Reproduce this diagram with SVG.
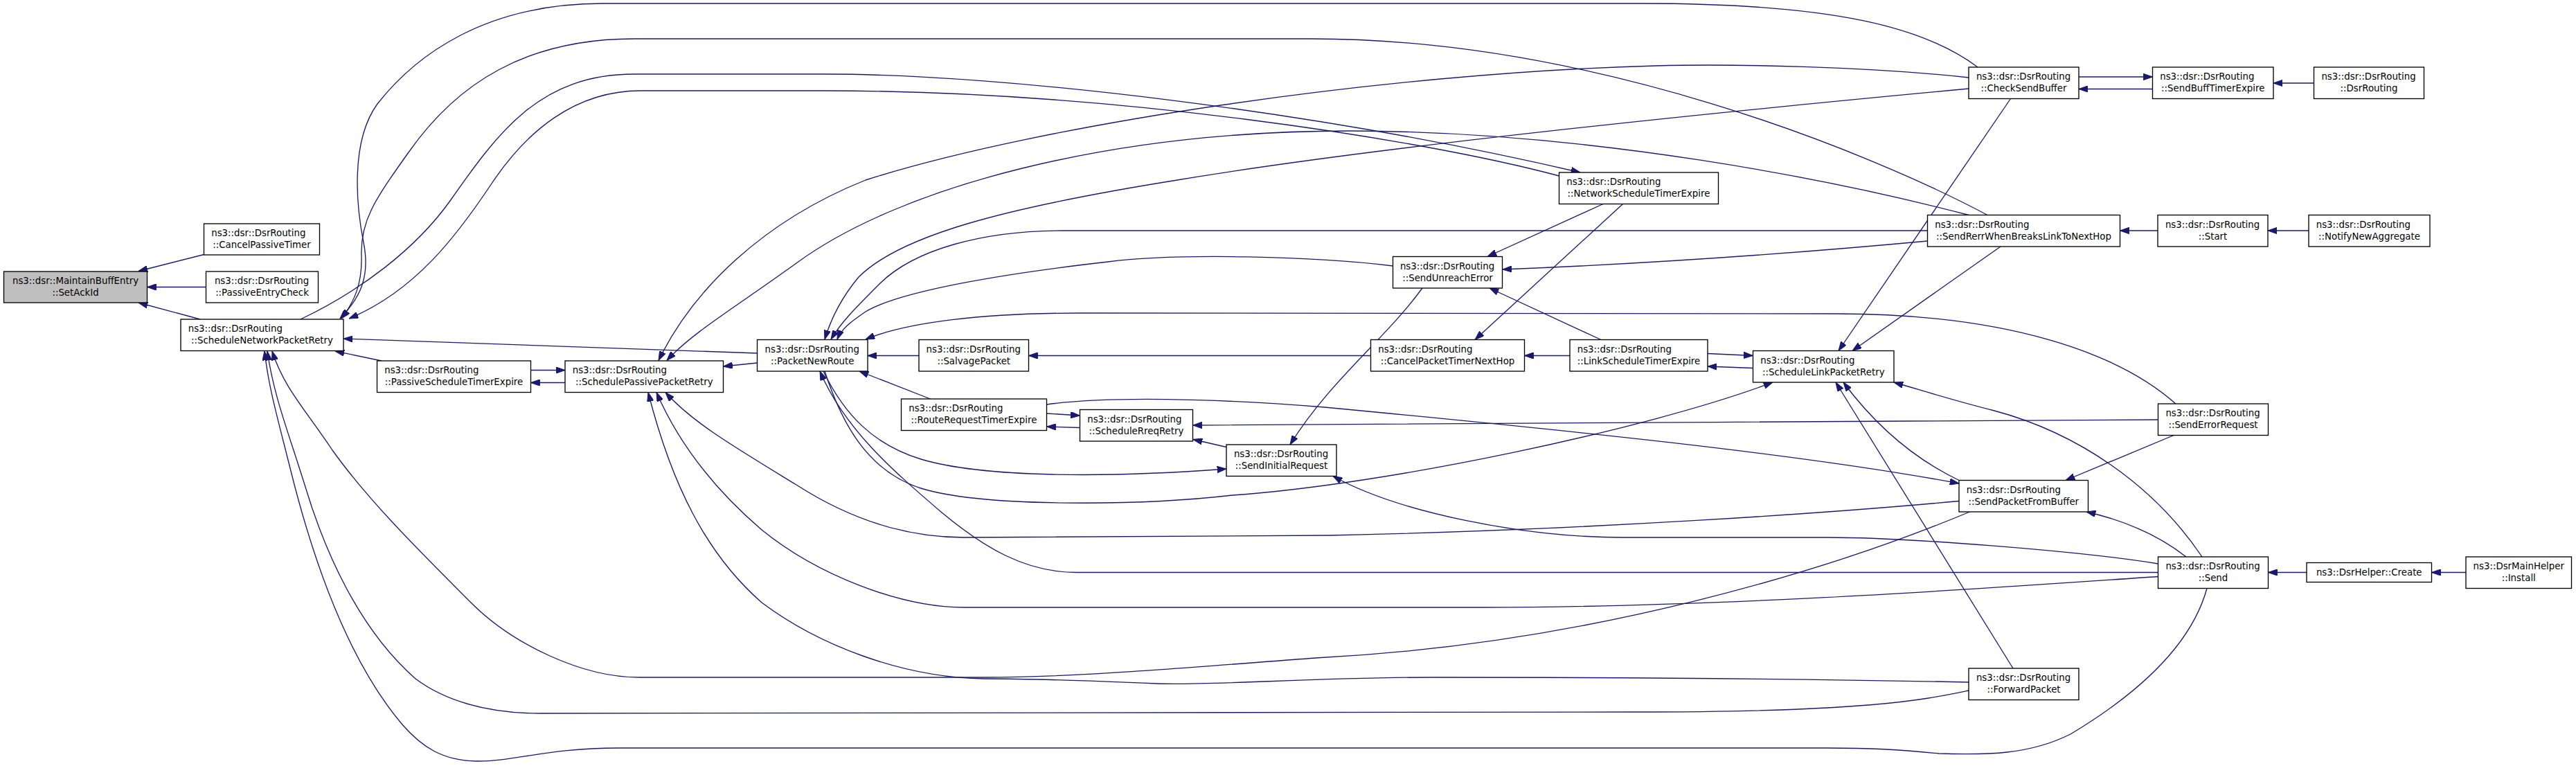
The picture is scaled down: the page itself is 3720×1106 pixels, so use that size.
<svg xmlns="http://www.w3.org/2000/svg" width="3720" height="1106" viewBox="0 0 3720 1106">
<style>
.n rect{fill:#ffffff;stroke:#000000;stroke-width:1.33}
text{font-family:"DejaVu Sans","Liberation Sans",sans-serif;font-size:13.33px;fill:#000000}
.m{text-anchor:middle}
.e path{fill:none;stroke:#191970;stroke-width:1.33;marker-end:url(#ah)}
</style>
<defs>
<marker id="ah" viewBox="0 0 13.3 9.4" refX="13.3" refY="4.7" markerWidth="13.3" markerHeight="9.4" markerUnits="userSpaceOnUse" orient="auto">
<path d="M0,0 L13.3,4.7 L0,9.4 z" fill="#191970" stroke="#191970" stroke-width="1"/>
</marker>
</defs>
<rect x="0" y="0" width="3720" height="1106" fill="#ffffff"/>
<g id="edges" class="e">
<path d="M294.5,367.5 L200,391.5"/>
<path d="M297.5,414.5 L212.5,414.5"/>
<path d="M289,461 L200,437"/>
<path d="M551,521 L484,507"/>
<path d="M766.5,534.5 L816,534.5"/>
<path d="M816,552.5 L766.5,552.5"/>
<path d="M1093.5,510 L496,489"/>
<path d="M1093.5,524 L1044.5,529"/>
<path d="M1327,513.5 L1253,513.5"/>
<path d="M1979.5,513.5 L1485.5,513.5"/>
<path d="M2267,513.5 L2201.5,513.5"/>
<path d="M2466,510.5 L2531.5,513.5"/>
<path d="M2531.5,531.5 L2466,529"/>
<path d="M1343.5,576 L1241,536"/>
<path d="M1511.5,597 L1559.5,600"/>
<path d="M1559.5,617.5 L1511.5,616"/>
<path d="M1771,645.5 L1723,634.5"/>
<path d="M1189,536 C1220,600 1262,642 1330,663 C1420,690 1600,690 1771,677"/>
<path d="M1191,536 C1215,610 1252,680 1330,705 C1420,733 1650,730 1780,715 C2000,700 2380,620 2560,552"/>
<path d="M2856,97 C2780,40 2650,5 2372,5 L871,5 C700,5 600,80 545,150 C505,205 515,300 525,350 C535,400 520,430 491,460"/>
<path d="M2870,310.5 C2700,220 2300,56 1894,56 L916,56 C760,56 660,120 590,220 C540,290 520,320 522,370 C523,410 512,435 493,460"/>
<path d="M434,461 C520,420 600,360 650,290 C720,190 780,107 916,107 L1191,107 C1450,107 1900,160 2282,249"/>
<path d="M2251.5,254 C2050,200 1600,131 1191,131 L925,131 C830,131 760,190 710,265 C660,340 600,420 504,460"/>
<path d="M2843,112 C2700,96 2500,92 2391,95 C2000,105 1500,180 1250,260 C1100,320 1000,420 951,520.5"/>
<path d="M2843,310.5 C2650,260 2300,190 1951,189 C1600,189 1300,270 1150,380 C1060,445 1000,480 963,520.5"/>
<path d="M2843,128 C2500,160 2000,210 1700,260 C1450,300 1300,340 1240,400 C1215,430 1200,460 1191,490"/>
<path d="M2783.5,333 L1534,333 C1420,333 1320,360 1270,410 C1235,445 1215,465 1200,490"/>
<path d="M2011.5,384 C1900,370 1700,365 1600,378 C1450,395 1300,420 1250,450 C1228,465 1215,475 1209,490"/>
<path d="M3142,583 C3060,510 2900,453 2650,453 L1560,452 C1420,452 1310,465 1250,490"/>
<path d="M2315,294.5 L2148,370.5"/>
<path d="M2343.5,294.5 L2130,490.5"/>
<path d="M2312,490.5 L2151,416"/>
<path d="M2783.5,348 C2600,365 2400,380 2170,389"/>
<path d="M2054,416 C2000,490 1920,550 1863,642"/>
<path d="M2903.5,142.5 L2655,506.5"/>
<path d="M2889,356 L2675,506.5"/>
<path d="M2907,965 L2651,552"/>
<path d="M2829,693.5 C2780,670 2720,630 2662,552"/>
<path d="M3180,804 C3110,700 3000,625 2880,593 C2820,578 2780,565 2735,552"/>
<path d="M3002,111 L3108.5,111"/>
<path d="M3108.5,128.5 L3002,128.5"/>
<path d="M3341.5,120 L3283,120"/>
<path d="M3116,333 L3061.5,333"/>
<path d="M3334,333 L3275,333"/>
<path d="M3116.5,606 C2700,608 2100,612 1722.5,614"/>
<path d="M3139,628.5 L2983,693.5"/>
<path d="M1511.5,584 C1600,572 1750,575 1913,588 C2250,620 2600,655 2829,698"/>
<path d="M3157,804 C3120,775 3070,752 3013,739"/>
<path d="M3331,826.5 L3275.5,826.5"/>
<path d="M3561,826.5 L3511.5,826.5"/>
<path d="M3116.5,814 C3000,795 2750,776 2640,776 L2345,776 C2200,776 2020,740 1925,687.5"/>
<path d="M3116.5,826.5 L1555,826.5 C1480,826.5 1420,790 1360,740 C1290,680 1220,620 1184,536"/>
<path d="M3116.5,832.5 C2900,847 2500,877 2140,877 L1392,877 C1300,877 1180,830 1100,765 C1030,705 980,640 948,566.5"/>
<path d="M3187,849.5 C3165,930 3090,1000 2990,1060 C2930,1090 2870,1090 2800,1088 C2740,1082 2700,1080 2639,1080 L893,1080 C790,1080 740,1100 688,1099 C640,1098 610,1080 580,1045 C500,950 450,800 420,680 C400,600 388,560 382,507"/>
<path d="M2829,723.5 C2650,740 2300,765 1920,773 L1392,776 C1300,776 1220,745 1150,700 C1060,645 1000,610 961,566.5"/>
<path d="M2844.5,739 C2650,820 2300,930 1900,950 C1700,965 1550,978 1421,978 L923,978 C840,978 740,930 680,870 C600,790 530,720 480,650 C440,590 410,560 393,507"/>
<path d="M2843,985 C2600,980 2300,978 2067,978 C1900,978 1750,990 1671,987 C1600,984 1500,980 1421,980 C1300,978 1180,930 1100,870 C1020,800 970,700 936,566.5"/>
<path d="M2843,997 C2780,1010 2700,1028 2360,1028 L780,1030 C700,1030 640,1010 600,980 C520,910 470,800 440,700 C415,620 395,570 386,507"/>
</g>
<g id="n_setackid" class="n"><rect x="5.5" y="392" width="207" height="45" style="fill:#bfbfbf"/><text class="m" x="109" y="410">ns3::dsr::MaintainBuffEntry</text><text class="m" x="109" y="427">::SetAckId</text></g>
<g id="n_cancelpassivetimer" class="n"><rect x="294.5" y="323" width="167" height="45"/><text x="305.2" y="341">ns3::dsr::DsrRouting</text><text class="m" x="378" y="358">::CancelPassiveTimer</text></g>
<g id="n_passiveentrycheck" class="n"><rect x="297.5" y="392" width="162" height="45"/><text x="309.9" y="410">ns3::dsr::DsrRouting</text><text class="m" x="378.5" y="427">::PassiveEntryCheck</text></g>
<g id="n_schedulenetworkpacketretry" class="n"><rect x="261" y="461" width="235" height="45.5"/><text x="271.7" y="479">ns3::dsr::DsrRouting</text><text class="m" x="378.5" y="496">::ScheduleNetworkPacketRetry</text></g>
<g id="n_passivescheduletimerexpire" class="n"><rect x="544.5" y="521" width="222" height="45.5"/><text x="555.2" y="539">ns3::dsr::DsrRouting</text><text class="m" x="655.5" y="556">::PassiveScheduleTimerExpire</text></g>
<g id="n_schedulepassivepacketretry" class="n"><rect x="816" y="521" width="228.5" height="45.5"/><text x="826.7" y="539">ns3::dsr::DsrRouting</text><text class="m" x="930.25" y="556">::SchedulePassivePacketRetry</text></g>
<g id="n_packetnewroute" class="n"><rect x="1093.5" y="490.5" width="159.5" height="45.5"/><text x="1104.6" y="508.5">ns3::dsr::DsrRouting</text><text class="m" x="1173.25" y="525.5">::PacketNewRoute</text></g>
<g id="n_salvagepacket" class="n"><rect x="1327" y="490.5" width="158.5" height="45.5"/><text x="1337.6" y="508.5">ns3::dsr::DsrRouting</text><text class="m" x="1406.25" y="525.5">::SalvagePacket</text></g>
<g id="n_routerequesttimerexpire" class="n"><rect x="1301.5" y="576" width="210" height="45.5"/><text x="1312.2" y="594">ns3::dsr::DsrRouting</text><text class="m" x="1406.5" y="611">::RouteRequestTimerExpire</text></g>
<g id="n_schedulerreqretry" class="n"><rect x="1559.5" y="591.5" width="163" height="45.5"/><text x="1570.2" y="609.5">ns3::dsr::DsrRouting</text><text class="m" x="1641" y="626.5">::ScheduleRreqRetry</text></g>
<g id="n_sendinitialrequest" class="n"><rect x="1771" y="642" width="159" height="45.5"/><text x="1781.9" y="660">ns3::dsr::DsrRouting</text><text class="m" x="1850.5" y="677">::SendInitialRequest</text></g>
<g id="n_sendunreacherror" class="n"><rect x="2011.5" y="370.5" width="158" height="45.5"/><text x="2021.9" y="388.5">ns3::dsr::DsrRouting</text><text class="m" x="2090.5" y="405.5">::SendUnreachError</text></g>
<g id="n_cancelpackettimernexthop" class="n"><rect x="1979.5" y="490.5" width="222" height="45.5"/><text x="1990.2" y="508.5">ns3::dsr::DsrRouting</text><text class="m" x="2090.5" y="525.5">::CancelPacketTimerNextHop</text></g>
<g id="n_networkscheduletimerexpire" class="n"><rect x="2251.5" y="249" width="230" height="45.5"/><text x="2262.2" y="267">ns3::dsr::DsrRouting</text><text class="m" x="2366.5" y="284">::NetworkScheduleTimerExpire</text></g>
<g id="n_linkscheduletimerexpire" class="n"><rect x="2267" y="490.5" width="199" height="45.5"/><text x="2277.7" y="508.5">ns3::dsr::DsrRouting</text><text class="m" x="2366.5" y="525.5">::LinkScheduleTimerExpire</text></g>
<g id="n_schedulelinkpacketretry" class="n"><rect x="2531.5" y="506.5" width="203.5" height="45.5"/><text x="2542.2" y="524.5">ns3::dsr::DsrRouting</text><text class="m" x="2633.25" y="541.5">::ScheduleLinkPacketRetry</text></g>
<g id="n_checksendbuffer" class="n"><rect x="2843" y="97" width="159" height="45.5"/><text x="2853.9" y="115">ns3::dsr::DsrRouting</text><text class="m" x="2922.5" y="132">::CheckSendBuffer</text></g>
<g id="n_sendbufftimerexpire" class="n"><rect x="3108.5" y="97" width="174.5" height="45.5"/><text x="3119.2" y="115">ns3::dsr::DsrRouting</text><text class="m" x="3195.75" y="132">::SendBuffTimerExpire</text></g>
<g id="n_dsrrouting" class="n"><rect x="3341.5" y="97" width="159" height="45.5"/><text x="3352.4" y="115">ns3::dsr::DsrRouting</text><text class="m" x="3421" y="132">::DsrRouting</text></g>
<g id="n_sendrerrwhenbreakslinktonexthop" class="n"><rect x="2783.5" y="310.5" width="278" height="45.5"/><text x="2794.2" y="328.5">ns3::dsr::DsrRouting</text><text class="m" x="2922.5" y="345.5">::SendRerrWhenBreaksLinkToNextHop</text></g>
<g id="n_start" class="n"><rect x="3116" y="310.5" width="159" height="45.5"/><text x="3126.9" y="328.5">ns3::dsr::DsrRouting</text><text class="m" x="3195.5" y="345.5">::Start</text></g>
<g id="n_notifynewaggregate" class="n"><rect x="3334" y="310.5" width="175" height="45.5"/><text x="3344.7" y="328.5">ns3::dsr::DsrRouting</text><text class="m" x="3421.5" y="345.5">::NotifyNewAggregate</text></g>
<g id="n_senderrorrequest" class="n"><rect x="3116.5" y="583" width="159" height="45.5"/><text x="3127.4" y="601">ns3::dsr::DsrRouting</text><text class="m" x="3196" y="618">::SendErrorRequest</text></g>
<g id="n_sendpacketfrombuffer" class="n"><rect x="2829" y="693.5" width="186.5" height="45.5"/><text x="2839.7" y="711.5">ns3::dsr::DsrRouting</text><text class="m" x="2922.25" y="728.5">::SendPacketFromBuffer</text></g>
<g id="n_send" class="n"><rect x="3116.5" y="804" width="159" height="45.5"/><text x="3127.4" y="822">ns3::dsr::DsrRouting</text><text class="m" x="3196" y="839">::Send</text></g>
<g id="n_create" class="n"><rect x="3331" y="812.5" width="180.5" height="28"/><text class="m" x="3421.25" y="831">ns3::DsrHelper::Create</text></g>
<g id="n_install" class="n"><rect x="3561" y="804" width="152.5" height="45.5"/><text class="m" x="3637.25" y="822">ns3::DsrMainHelper</text><text class="m" x="3637.25" y="839">::Install</text></g>
<g id="n_forwardpacket" class="n"><rect x="2843" y="965" width="159" height="45.5"/><text x="2853.9" y="983">ns3::dsr::DsrRouting</text><text class="m" x="2922.5" y="1000">::ForwardPacket</text></g>
</svg>
